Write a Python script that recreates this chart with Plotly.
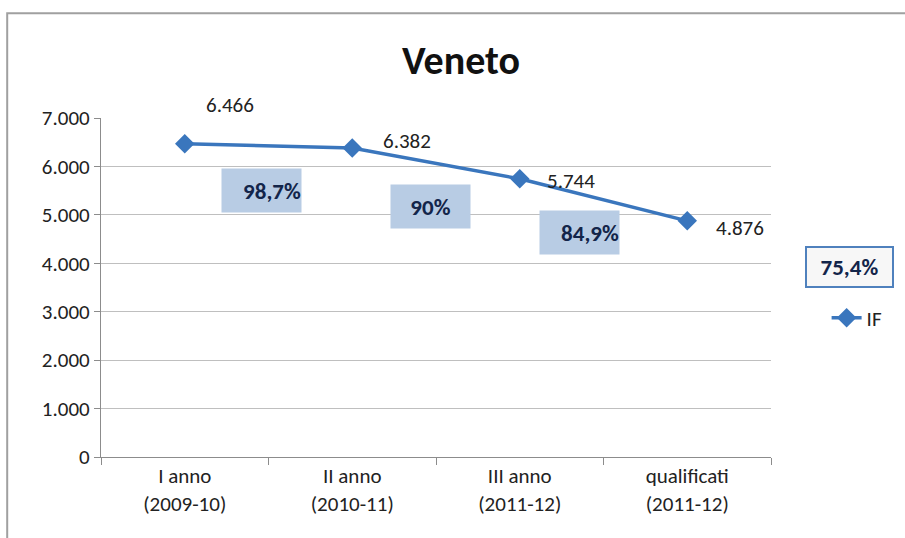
import plotly.graph_objects as go

categories = ["I anno<br>(2009-10)", "II anno<br>(2010-11)", "III anno<br>(2011-12)", "qualificati<br>(2011-12)"]
values = [6466, 6382, 5744, 4876]
series_name = "IF"
ratio_labels = ["98,7%", "90%", "84,9%"]
total_ratio = "75,4%"
y_ticks = [0, 1000, 2000, 3000, 4000, 5000, 6000, 7000]

FONT = "Carlito, Lato, 'Liberation Sans', sans-serif"
LINE = "#3A76BD"
TXT = "#13254A"

def fmt(v):
    return f"{v:,}".replace(",", ".")

fig = go.Figure()
fig.add_trace(go.Scatter(
    x=list(range(len(categories))), y=values, name=series_name,
    mode="lines+markers",
    line=dict(color=LINE, width=3.5),
    marker=dict(symbol="diamond", size=15, color=LINE),
))

ann = []
# data labels
offsets = [(45, 39), (55, 7), (51, -2), (53, -7)]
for i, v in enumerate(values):
    dx, dy = offsets[i]
    ann.append(dict(x=i, y=v, xref="x", yref="y", text=fmt(v), showarrow=False,
                    xshift=dx, yshift=dy, font=dict(family=FONT, size=21, color="#222")))
# ratio boxes (between consecutive points)
box_pos = [(0.457, 5503), (1.466, 5173), (2.355, 4636)]
box_align = ["right", "center", "right"]
for (bx, by), t, al in zip(box_pos, ratio_labels, box_align):
    ann.append(dict(x=bx, y=by, xref="x", yref="y", xanchor="center", yanchor="middle",
                    text="<b>" + t + "</b>", showarrow=False,
                    width=79, height=43, bgcolor="#B8CCE4", borderpad=0, align=al,
                    font=dict(family=FONT, size=23, color=TXT)))
ann.append(dict(x=1.117, y=0.5605, xref="paper", yref="paper", xanchor="center", yanchor="middle",
                text="<b>" + total_ratio + "</b>",
                showarrow=False, width=85, height=38, bgcolor="#F7F7F7", bordercolor="#4F81BD",
                borderwidth=2, borderpad=0, font=dict(family=FONT, size=23, color=TXT)))
ann.append(dict(x=0.537, y=1.0, xref="paper", yref="paper", xanchor="center", yanchor="middle", yshift=58,
                text="<b>Veneto</b>", showarrow=False,
                font=dict(family=FONT, size=40, color="#111")))

fig.update_layout(
    width=905, height=538,
    margin=dict(l=101, r=134, t=118, b=81, autoexpand=False),
    paper_bgcolor="white", plot_bgcolor="white",
    separators=",.",
    showlegend=True,
    legend=dict(x=1.083, y=0.41, xanchor="left", yanchor="middle",
                font=dict(family=FONT, size=21, color="#222"), bgcolor="rgba(0,0,0,0)"),
    annotations=ann,
    font=dict(family=FONT),
    shapes=[dict(type="rect", xref="paper", yref="paper",
                 x0=-0.140, x1=1.3, y0=-0.3, y1=1.309,
                 line=dict(color="#A0A0A0", width=2), layer="below")],
)
fig.update_xaxes(
    range=[-0.5, 3.5], tickmode="array", tickvals=list(range(len(categories))), ticktext=categories,
    showgrid=False, showline=True, linecolor="#8C8C8C", linewidth=1.2,
    ticks="", tickfont=dict(family=FONT, size=21, color="#222"), zeroline=False,
    minor=dict(tickmode="array", tickvals=[-0.5, 0.5, 1.5, 2.5, 3.5], ticks="outside",
               ticklen=7, tickcolor="#8C8C8C", showgrid=False),
)
fig.update_yaxes(
    range=[0, 7000], tickmode="array", tickvals=y_ticks, tickformat=",d",
    showgrid=True, gridcolor="#BFBFBF", gridwidth=1.2,
    showline=True, linecolor="#8C8C8C", linewidth=1.2,
    ticks="outside", ticklen=6, tickcolor="#8C8C8C",
    tickfont=dict(family=FONT, size=21, color="#222"), zeroline=False,
)
fig.write_html("out.html", config={"displayModeBar": False},
               post_script="document.body.style.margin='0';document.body.style.overflow='hidden';")
